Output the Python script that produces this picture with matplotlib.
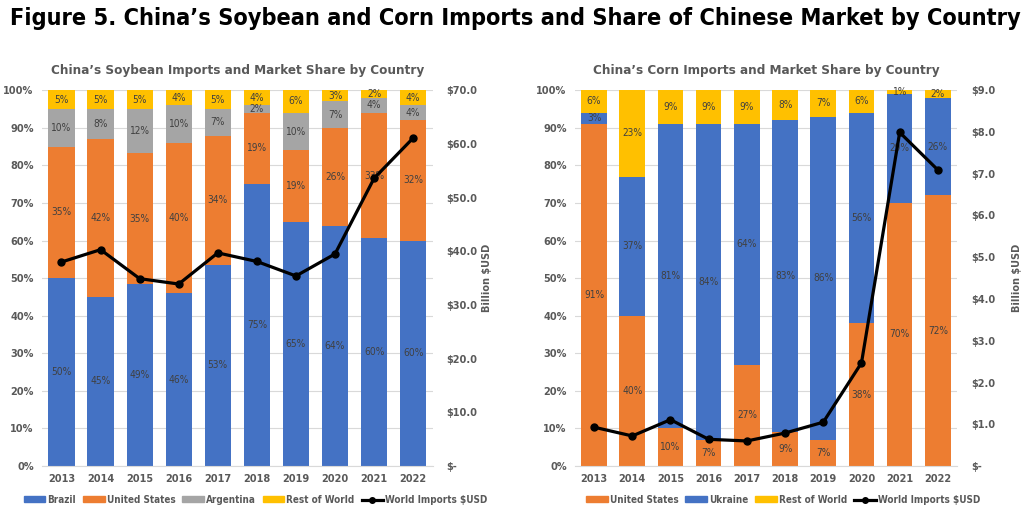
import numpy as np
import matplotlib
matplotlib.use('Agg')
from matplotlib import pyplot as plt
from matplotlib.patches import Patch
from matplotlib.lines import Line2D

years = ['2013', '2014', '2015', '2016', '2017', '2018', '2019', '2020', '2021', '2022']

# soybean market share (%)
soy_brazil = [50, 45, 49, 46, 53, 75, 65, 64, 60, 60]
soy_us = [35, 42, 35, 40, 34, 19, 19, 26, 33, 32]
soy_argentina = [10, 8, 12, 10, 7, 2, 10, 7, 4, 4]
soy_rest = [5, 5, 5, 4, 5, 4, 6, 3, 2, 4]
soy_imports = [38.0, 40.3, 34.9, 33.9, 39.7, 38.1, 35.4, 39.5, 53.6, 61.1]

# corn market share (%)
corn_us = [91, 40, 10, 7, 27, 9, 7, 38, 70, 72]
corn_ukraine = [3, 37, 81, 84, 64, 83, 86, 56, 29, 26]
corn_rest = [6, 23, 9, 9, 9, 8, 7, 6, 1, 2]
corn_imports = [0.93, 0.72, 1.11, 0.64, 0.60, 0.79, 1.05, 2.47, 7.99, 7.09]

BLUE = '#4472C4'
ORANGE = '#ED7D31'
GRAY = '#A5A5A5'
YELLOW = '#FFC000'
TXT = '#595959'

plt.rcParams['font.family'] = ['DejaVu Sans']
plt.rcParams['font.stretch'] = 'condensed'


def money(v):
    return '$-' if v == 0 else f'${v:.1f}'


def draw_panel(ax, title, series, imports, ymax, step, legend_x, label_pad):
    x = np.arange(len(years))
    totals = np.sum([vals for _, vals, _ in series], axis=0)
    bottom = np.zeros(len(years))
    for name, vals, color in series:
        share = np.array(vals) / totals * 100
        ax.bar(x, share, 0.67, bottom=bottom, color=color, zorder=2)
        for i in range(len(years)):
            ax.text(x[i], bottom[i] + share[i] / 2, f'{vals[i]}%',
                    ha='center', va='center', fontsize=7.3, color='#404040',
                    fontstretch='condensed', zorder=3)
        bottom += share

    ax.set_xlim(-0.5, len(years) - 0.5)
    ax.set_ylim(0, 100)
    ax.set_yticks(np.arange(0, 101, 10))
    ax.set_yticklabels([f'{v}%' for v in range(0, 101, 10)])
    ax.set_xticks(x)
    ax.set_xticklabels(years)
    ax.grid(axis='y', color='#D9D9D9', linewidth=0.8, zorder=0)
    ax.tick_params(length=0, labelsize=7.8, labelcolor=TXT, pad=6)
    for lbl in ax.get_xticklabels() + ax.get_yticklabels():
        lbl.set_fontweight('bold')
    for s in ['left', 'right', 'top']:
        ax.spines[s].set_visible(False)
    ax.spines['bottom'].set_color('#D9D9D9')
    ax.set_title(title, fontsize=9.6, fontweight='bold', color=TXT, pad=12)

    ax2 = ax.twinx()
    ax2.plot(x, imports, color='black', linewidth=2.3, marker='o', markersize=5, zorder=5)
    ax2.set_ylim(0, ymax)
    ticks = np.arange(0, ymax + step / 2, step)
    ax2.set_yticks(ticks)
    ax2.set_yticklabels([money(v) for v in ticks])
    ax2.tick_params(length=0, labelsize=7.8, labelcolor=TXT, pad=10)
    for lbl in ax2.get_yticklabels():
        lbl.set_fontweight('bold')
    for s in ax2.spines.values():
        s.set_visible(False)
    ax2.set_ylabel('Billion $USD', fontsize=7.8, fontweight='bold', color=TXT,
                   labelpad=label_pad)

    handles = [Patch(color=c, label=n) for n, _, c in series]
    handles.append(Line2D([], [], color='black', linewidth=2.3, marker='o',
                          markersize=4, label='World Imports $USD'))
    leg = ax.legend(handles=handles, loc='center', bbox_to_anchor=(legend_x, -0.09),
                    ncol=len(handles), frameon=False, fontsize=7.1, handlelength=2.2,
                    handleheight=0.6, columnspacing=0.7, handletextpad=0.2)
    for t in leg.get_texts():
        t.set_color(TXT)
        t.set_fontweight('bold')


fig = plt.figure(figsize=(10.31, 5.12), dpi=100)
fig.text(0.5, 0.963, "Figure 5. China\u2019s Soybean and Corn Imports and Share of Chinese Market by Country",
         ha='center', va='center', fontsize=16.8, fontweight='bold', color='black')

ax_soy = fig.add_axes([0.0407, 0.0898, 0.379, 0.734])
draw_panel(ax_soy, 'China\u2019s Soybean Imports and Market Share by Country',
           [('Brazil', soy_brazil, BLUE), ('United States', soy_us, ORANGE),
            ('Argentina', soy_argentina, GRAY), ('Rest of World', soy_rest, YELLOW)],
           soy_imports, 70, 10, 0.547, 3)

ax_corn = fig.add_axes([0.5577, 0.0898, 0.3705, 0.734])
draw_panel(ax_corn, 'China\u2019s Corn Imports and Market Share by Country',
           [('United States', corn_us, ORANGE), ('Ukraine', corn_ukraine, BLUE),
            ('Rest of World', corn_rest, YELLOW)],
           corn_imports, 9, 1, 0.545, 12)

fig.savefig('out.png', dpi=100)
